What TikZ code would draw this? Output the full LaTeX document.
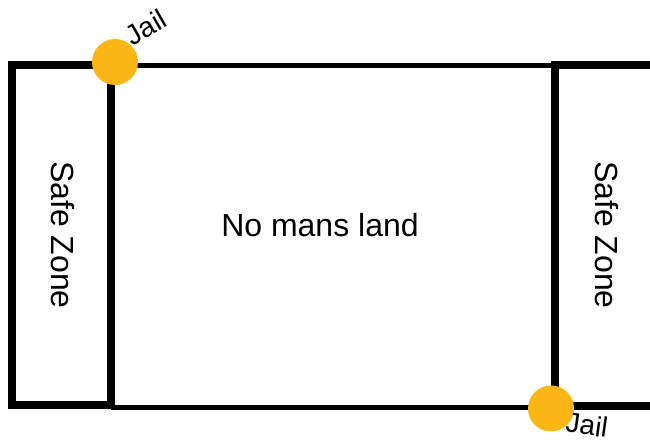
\documentclass[tikz,border=0pt]{standalone}
\usepackage{fontspec}
\setmainfont{Liberation Sans}
\definecolor{jailc}{RGB}{252,183,22}
\begin{document}
\begin{tikzpicture}[x=1pt,y=-1pt,
  thickwall/.style={line width=8pt,line join=miter},
  thinwall/.style={line width=5pt},
  jail/.style={circle,fill=jailc,minimum size=46pt,inner sep=0pt},
  biglabel/.style={font=\fontsize{32}{38}\selectfont,inner sep=0pt},
  jaillabel/.style={font=\fontsize{28}{32}\selectfont,inner sep=0pt}]
\useasboundingbox (0,0) rectangle (650,441);
% no mans land borders
\draw[thinwall] (111,66) -- (555,66);
\draw[thinwall] (111,407) -- (555,407);
% left safe zone
\draw[thickwall] (12,65) rectangle (111,405);
% right safe zone
\draw[thickwall] (654,65) -- (555,65) -- (555,405.5) -- (654,405.5);
% jails
\node[jail] (jailA) at (115,62) {};
\node[jail] (jailB) at (551,408.5) {};
% labels
\node[jaillabel,rotate=30] (jailAtxt) at (146,27) {Jail};
\node[jaillabel,rotate=-8] (jailBtxt) at (587,425) {Jail};
\node[biglabel] (nml) at (320,225) {No mans land};
\node[biglabel,rotate=-90] (szL) at (63,235) {Safe Zone};
\node[biglabel,rotate=-90] (szR) at (607,235) {Safe Zone};
\end{tikzpicture}
\end{document}
